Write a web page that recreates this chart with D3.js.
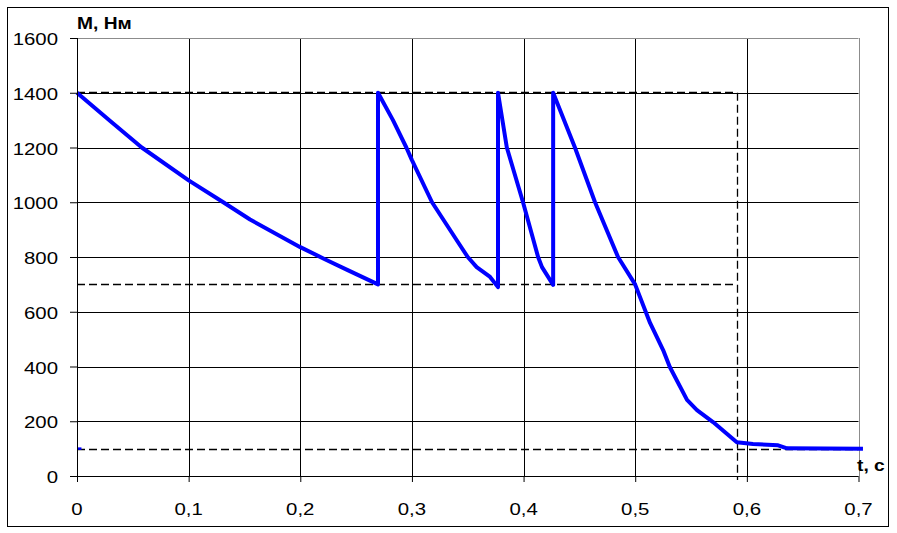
<!DOCTYPE html>
<html>
<head>
<meta charset="utf-8">
<script src="https://cdn.jsdelivr.net/npm/d3@7"></script>
<style>
  html, body { margin: 0; padding: 0; background: #fff; }
  svg { display: block; }
  text { font-family: "Liberation Sans", Arial, sans-serif; fill: #000; }
</style>
</head>
<body>
<svg id="chart" width="897" height="533"></svg>
<script>
// ---- data ----
const xTickValues = [0, 0.1, 0.2, 0.3, 0.4, 0.5, 0.6, 0.7];
const xTickLabels = ["0", "0,1", "0,2", "0,3", "0,4", "0,5", "0,6", "0,7"];
const yTickValues = [0, 200, 400, 600, 800, 1000, 1200, 1400, 1600];
const yTickLabels = ["0", "200", "400", "600", "800", "1000", "1200", "1400", "1600"];

const tValues = [0, 0.03, 0.058, 0.1, 0.131, 0.155, 0.2, 0.222, 0.242, 0.2696,
  0.2696, 0.283, 0.295, 0.3, 0.318, 0.34, 0.35, 0.358, 0.37, 0.3771,
  0.3771, 0.385, 0.3995, 0.413, 0.4165, 0.4265,
  0.4265, 0.446, 0.464, 0.4846, 0.4999, 0.5133, 0.525, 0.531, 0.5464, 0.5553, 0.5697, 0.591,
  0.6055, 0.628, 0.636, 0.704];
const mValues = [1400, 1296, 1200, 1080, 1000, 937, 836, 792, 753, 700,
  1400, 1300, 1200, 1154, 1000, 862, 800, 763, 727, 690,
  1400, 1200, 1000, 800, 763, 698,
  1400, 1200, 1000, 800, 700, 559, 460, 398, 278, 241, 197, 123,
  117, 112, 101, 100];

const stubT = [0, 0.004];
const stubM = [100, 100];

const refLevels = [1400, 700, 100];
const refLevelEnds = [0.591, 0.591, 0.7];
const refTime = 0.591;
const refTimeRange = [0, 1400];

const yTitle = "M, Нм";
const xTitle = "t, с";

// ---- chart ----
const svg = d3.select("#chart");
const x = d3.scaleLinear().domain([0, 0.7]).range([77, 858.5]);
const y = d3.scaleLinear().domain([0, 1600]).range([476, 38]);

// outer frame
svg.append("rect").attr("x", 7.5).attr("y", 7.5).attr("width", 881).attr("height", 519)
  .attr("fill", "none").attr("stroke", "#000").attr("stroke-width", 1);

const g = svg.append("g");

// horizontal grid
g.selectAll("line.hg").data(yTickValues.filter(v => v > 0 && v < 1600)).enter().append("line")
  .attr("x1", x(0)).attr("x2", x(0.7))
  .attr("y1", d => Math.round(y(d)) + 0.5).attr("y2", d => Math.round(y(d)) + 0.5)
  .attr("stroke", "#000").attr("stroke-width", 1);
// vertical grid
g.selectAll("line.vg").data(xTickValues.filter(v => v > 0 && v < 0.7)).enter().append("line")
  .attr("x1", d => Math.round(x(d)) + 0.5).attr("x2", d => Math.round(x(d)) + 0.5)
  .attr("y1", y(1600)).attr("y2", y(0))
  .attr("stroke", "#000").attr("stroke-width", 1);

// plot border top/right in gray
g.append("line").attr("x1", x(0)).attr("x2", x(0.7)).attr("y1", Math.round(y(1600)) + 0.5).attr("y2", Math.round(y(1600)) + 0.5)
  .attr("stroke", "#8c8c8c").attr("stroke-width", 1);
g.append("line").attr("x1", Math.round(x(0.7)) + 0.5).attr("x2", Math.round(x(0.7)) + 0.5).attr("y1", y(1600)).attr("y2", y(0))
  .attr("stroke", "#8c8c8c").attr("stroke-width", 1);

// axes (left and bottom) via d3 axes
const yAxis = d3.axisLeft(y).tickValues(yTickValues).tickSize(7).tickFormat("");
const xAxis = d3.axisBottom(x).tickValues(xTickValues).tickSize(6).tickFormat("");
const ya = svg.append("g").attr("transform", `translate(${Math.round(x(0))},0)`).call(yAxis);
const xa = svg.append("g").attr("transform", `translate(0,${Math.round(y(0))})`).call(xAxis);
[ya, xa].forEach(a => {
  a.selectAll("path").attr("stroke", "#000").attr("stroke-width", 1);
  a.selectAll("line").attr("stroke", "#000").attr("stroke-width", 1);
});
ya.select("path").attr("d", `M0.5,${y(1600)}V${y(0)}`);
xa.select("path").attr("d", `M${x(0)},0.5H${x(0.7)}`);

// tick labels
svg.selectAll("text.yl").data(yTickValues).enter().append("text")
  .attr("transform", d => `translate(58,${y(d) + 7}) scale(1.2,1)`)
  .attr("text-anchor", "end").attr("font-size", 17)
  .text((d, i) => yTickLabels[i]);
svg.selectAll("text.xl").data(xTickValues).enter().append("text")
  .attr("transform", d => `translate(${x(d)},515) scale(1.2,1)`)
  .attr("text-anchor", "middle").attr("font-size", 17)
  .text((d, i) => xTickLabels[i]);

// titles
svg.append("text").attr("transform", "translate(77,29) scale(1.2,1)")
  .attr("font-size", 16).attr("font-weight", "bold").text(yTitle);
svg.append("text").attr("transform", "translate(857,471) scale(1.2,1)")
  .attr("font-size", 16).attr("font-weight", "bold").text(xTitle);

// reference dashed lines
const dash = "8,4";
g.selectAll("line.ref").data(refLevels).enter().append("line")
  .attr("x1", x(0)).attr("x2", (d, i) => x(refLevelEnds[i]))
  .attr("y1", d => Math.round(y(d)) + (d === 1400 ? -0.5 : 0.5))
  .attr("y2", d => Math.round(y(d)) + (d === 1400 ? -0.5 : 0.5))
  .attr("stroke", "#000").attr("stroke-width", 1.3).attr("stroke-dasharray", dash);
g.append("line")
  .attr("x1", Math.round(x(refTime)) + 0.5).attr("x2", Math.round(x(refTime)) + 0.5)
  .attr("y1", y(refTimeRange[1])).attr("y2", y(refTimeRange[0]) + 4)
  .attr("stroke", "#000").attr("stroke-width", 1.3).attr("stroke-dasharray", dash);

// series
const line = d3.line().x(d => x(d[0])).y(d => y(d[1]));
const pts = tValues.map((t, i) => [t, mValues[i]]);
g.append("path").attr("d", line(pts))
  .attr("fill", "none").attr("stroke", "#0000ff").attr("stroke-width", 4)
  .attr("stroke-linejoin", "round").attr("stroke-linecap", "butt");
g.append("path").attr("d", line(stubT.map((t, i) => [t, stubM[i]])))
  .attr("fill", "none").attr("stroke", "#0000ff").attr("stroke-width", 2.5);
</script>
</body>
</html>
